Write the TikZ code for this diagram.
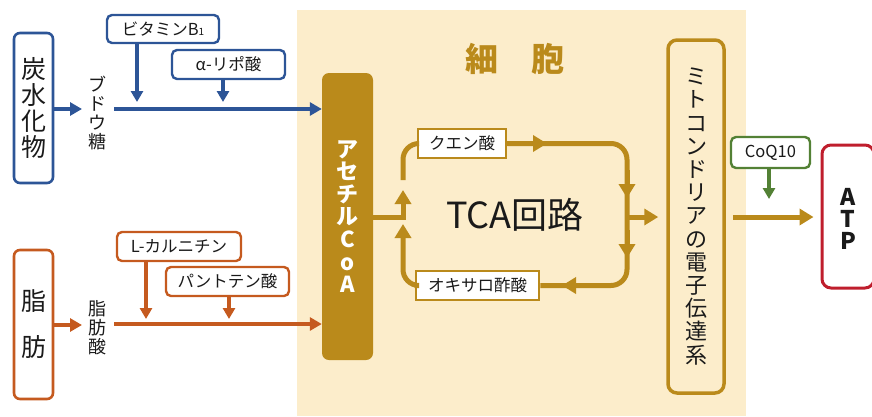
\documentclass[tikz,border=0pt]{standalone}
\usepackage{fontspec}
\setmainfont{Noto Sans CJK JP}
\usetikzlibrary{arrows.meta}
\definecolor{cblue}{HTML}{2D5597}
\definecolor{corange}{HTML}{C55A1F}
\definecolor{cgold}{HTML}{BA8A1B}
\definecolor{ccream}{HTML}{FCEDCB}
\definecolor{cgreen}{HTML}{538135}
\definecolor{cred}{HTML}{BF1E2D}
\definecolor{ctext}{HTML}{1A1A1A}
\begin{document}
\begin{tikzpicture}[x=1pt,y=-1pt,
  tallbox/.style={draw, line width=2.6pt, rounded corners=6pt, fill=white, align=center, inner sep=0pt, text=ctext},
  smallbox/.style={draw, line width=2.4pt, rounded corners=5pt, fill=white, inner sep=0pt, text=ctext, font=\fontsize{16.5}{18}\selectfont},
  goldbox/.style={draw=cgold, line width=2.6pt, fill=white, inner sep=0pt, text=ctext, font=\fontsize{16.5}{18}\selectfont},
  vtext/.style={align=center, inner sep=0pt, text=ctext, font=\fontsize{18}{19}\selectfont},
  mainline/.style={line width=4pt, -{Triangle[length=12pt,width=13pt]}},
  feedline/.style={line width=3.5pt, -{Triangle[length=11pt,width=12pt]}},
  goldline/.style={draw=cgold, line width=5pt},
  goldarrow/.style={draw=cgold, line width=5pt, -{Triangle[length=14pt,width=16pt]}},
  atpletter/.style={inner sep=0pt, text=ctext, font=\fontsize{23}{23}\selectfont\bfseries},
]
\useasboundingbox (0,0) rectangle (872,416);
% cell background
\fill[ccream] (297,10) rectangle (746,416);
\node[text=cgold, font=\fontsize{33}{36}\selectfont\bfseries, inner sep=0pt] (cell) at (514.5,59) {細\hspace{1em}胞};

% left boxes
\node[tallbox, draw=cblue, minimum width=39, minimum height=150, font=\fontsize{25}{26}\selectfont] (carb) at (33.5,108) {炭\\水\\化\\物};
\node[tallbox, draw=corange, minimum width=39, minimum height=149, font=\fontsize{25}{46}\selectfont] (fat) at (33.5,324.5) {脂\\肪};

\node[vtext] (glu) at (97,113) {ブ\\ド\\ウ\\糖};
\node[vtext] (fa) at (97,328) {脂\\肪\\酸};

\coordinate (carbtip) at (82,109);
\coordinate (fattip) at (82,325);
\draw[cblue, line width=4pt, -{Triangle[length=12pt,width=13pt]}] (carb.east |- carbtip) -- (carbtip);
\draw[corange, line width=4pt, -{Triangle[length=12pt,width=13pt]}] (fat.east |- fattip) -- (fattip);

% acetyl CoA
\node[fill=cgold, rounded corners=7pt, minimum width=51, minimum height=287, inner sep=0pt, align=center, text=white, font=\fontsize{22}{22.6}\selectfont\bfseries] (acoa) at (347.5,216.5) {ア\\セ\\チ\\ル\\C\\o\\A};

% cofactor boxes
\node[smallbox, draw=cblue, minimum width=112, minimum height=28] (vb1) at (163,29) {ビタミンB\raisebox{-0.5pt}{\fontsize{10}{10}\selectfont 1}};
\node[smallbox, draw=cblue, minimum width=113, minimum height=29] (lipo) at (228.5,64.5) {α-リポ酸};
\node[smallbox, draw=corange, minimum width=124, minimum height=29] (carn) at (179,246.5) {L-カルニチン};
\node[smallbox, draw=corange, minimum width=123, minimum height=29] (pant) at (227.5,281.5) {パントテン酸};

% main lines
\coordinate (bstart) at (114,109);
\coordinate (ostart) at (114,324);
\draw[cblue, mainline] (bstart) -- (bstart -| acoa.west);
\draw[corange, mainline] (ostart) -- (ostart -| acoa.west);

\coordinate (vbtip) at (137,102);
\coordinate (lptip) at (223,102);
\coordinate (cntip) at (146,319);
\coordinate (pttip) at (229,319);
\draw[cblue, feedline] (vbtip |- vb1.south) -- (vbtip);
\draw[cblue, feedline] (lptip |- lipo.south) -- (lptip);
\draw[corange, feedline] (cntip |- carn.south) -- (cntip);
\draw[corange, feedline] (pttip |- pant.south) -- (pttip);

% TCA cycle
\node[goldbox, minimum width=88, minimum height=29] (cit) at (462,143.5) {クエン酸};
\node[goldbox, minimum width=123, minimum height=29] (oxa) at (477.5,285.5) {オキサロ酢酸};
\node[text=ctext, inner sep=0pt, font=\fontsize{36}{38}\selectfont] (tca) at (515,215) {TCA回路};

\coordinate (jn) at (403,217);
\coordinate (jtip) at (403,190);
\coordinate (ltop) at (403,180);
\coordinate (lbot) at (403,224);
\coordinate (rx) at (627,217);
\draw[goldarrow] (jn -| acoa.east) -- (jn) -- (jtip);
\draw[goldline, rounded corners=16pt] (ltop) |- (cit.west);
\draw[goldline, rounded corners=16pt] (cit.east) -| (rx) |- (oxa.east);
\draw[goldarrow, rounded corners=16pt] (oxa.west) -| (lbot);
% mid arrowheads
\draw[goldarrow] (cit.east) -- (547,143.5);
\draw[goldarrow] (627,170) -- (627,198);
\draw[goldarrow] (627,230) -- (627,258);
\draw[goldarrow] (600,285.5) -- (562,285.5);

% electron transport chain
\node[draw=cgold, line width=3.5pt, rounded corners=9pt, fill=ccream, minimum width=56, minimum height=353, inner sep=0pt, align=center, text=ctext, font=\fontsize{22}{23.2}\selectfont] (etc) at (696,216.5) {ミ\\ト\\コ\\ン\\ド\\リ\\ア\\の\\電\\子\\伝\\達\\系};
\draw[goldarrow, shorten >=8pt] (rx) -- (etc.west |- rx);

% CoQ10 and ATP
\node[smallbox, draw=cgreen, minimum width=79, minimum height=31] (coq) at (770.5,152.5) {CoQ10};
\node[draw=cred, line width=3pt, rounded corners=9pt, fill=white, minimum width=52, minimum height=143, inner sep=0pt] (atp) at (848,216.5) {};
\node[atpletter] (atpA) at (848,197) {A};
\node[atpletter] (atpT) at (848,219) {T};
\node[atpletter] (atpP) at (848,241) {P};
\coordinate (coqtip) at (769,199);
\draw[cgreen, feedline] (coqtip |- coq.south) -- (coqtip);
\draw[goldarrow, shorten <=7pt, shorten >=7pt] (etc.east |- rx) -- (atp.west |- rx);
\end{tikzpicture}
\end{document}
